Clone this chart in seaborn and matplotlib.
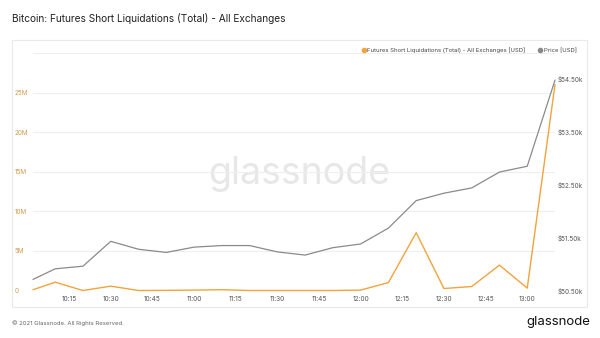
import matplotlib
matplotlib.use("Agg")
import matplotlib.pyplot as plt
import matplotlib.dates as mdates
from matplotlib.lines import Line2D
from matplotlib.patches import Rectangle
import seaborn as sns
import pandas as pd

times = ["10:02", "10:10", "10:20", "10:30", "10:40", "10:50", "11:00", "11:10",
         "11:20", "11:30", "11:40", "11:50", "12:00", "12:10", "12:20", "12:30",
         "12:40", "12:50", "13:00", "13:10"]
short_liq_musd = [0.1, 1.05, 0.0, 0.55, 0.0, 0.02, 0.05, 0.1, 0.0, 0.0,
                  0.0, 0.0, 0.05, 1.0, 7.3, 0.25, 0.5, 3.2, 0.3, 26.0]
price_k = [50.71, 50.91, 50.96, 51.43, 51.28, 51.22, 51.32, 51.35, 51.35, 51.23,
           51.17, 51.31, 51.38, 51.68, 52.20, 52.34, 52.44, 52.74, 52.85, 54.48]
left_ticks_m = [0, 5, 10, 15, 20, 25, 30]
left_labels = ["0", "5M", "10M", "15M", "20M", "25M", ""]
right_ticks_k = [50.5, 51.5, 52.5, 53.5, 54.5]
right_labels = ["$50.50k", "$51.50k", "$52.50k", "$53.50k", "$54.50k"]

df = pd.DataFrame({
    "time": pd.to_datetime(["2021-02-21 " + t for t in times]),
    "liq": [v * 1e6 for v in short_liq_musd],
    "price": price_k,
})

sns.set_theme(style="white")
plt.rcParams["font.family"] = ["Inter", "DejaVu Sans"]

ORANGE = "#f2a33c"
GRAY = "#8a8a8a"

fig = plt.figure(figsize=(6, 3.38), dpi=100, facecolor="white")
ax = fig.add_axes([33 / 600, 47.5 / 338, 522 / 600, 237.6 / 338])
ax2 = ax.twinx()

# panel border
fig.patches.append(Rectangle((12 / 600, (338 - 307) / 338), 575 / 600, 267 / 338,
                             transform=fig.transFigure, fill=False,
                             edgecolor="#e9e9e9", linewidth=0.8, zorder=0))

sns.lineplot(data=df, x="time", y="liq", ax=ax, color=ORANGE, linewidth=1.0,
             clip_on=False, zorder=3)
sns.lineplot(data=df, x="time", y="price", ax=ax2, color=GRAY, linewidth=0.9,
             clip_on=False, zorder=3)

ax.set_ylim(0, 30e6)
ax2.set_ylim(50.5, 50.5 + 237.6 / 52.875)
ax.set_xlim(df["time"].min(), df["time"].max())

ax.set_yticks([v * 1e6 for v in left_ticks_m])
ax.set_yticklabels(left_labels)
ax2.set_yticks(right_ticks_k)
ax2.set_yticklabels(right_labels)

ax.xaxis.set_major_formatter(mdates.DateFormatter("%H:%M"))
ticks = list(pd.date_range("2021-02-21 10:15", "2021-02-21 13:00", freq="15min"))
ax.set_xticks(ticks)

ax.grid(axis="y", color="#efefef", linewidth=0.8)
ax.grid(axis="x", visible=False)
ax2.grid(False)
for a in (ax, ax2):
    for s in a.spines.values():
        s.set_visible(False)
    a.set_xlabel("")
    a.set_ylabel("")
    a.set_facecolor("none")

ax.tick_params(axis="y", length=0, labelsize=4.6, labelcolor="#d49a4e", pad=13)
for lbl in ax.get_yticklabels():
    lbl.set_horizontalalignment("left")
ax2.tick_params(axis="y", length=0, labelsize=4.6, labelcolor="#555555", pad=2)
ax.tick_params(axis="x", length=0, labelsize=4.7, labelcolor="#555555", pad=4)

# watermark
ax.text(0.51, 0.49, "glassnode", transform=ax.transAxes, ha="center", va="center",
        fontsize=27, color="#e7e7e7", zorder=0)

fig.text(12 / 600, 1 - 18 / 338, "Bitcoin: Futures Short Liquidations (Total) - All Exchanges",
         ha="left", va="center", fontsize=7.3, color="#222222")

handles = [Line2D([], [], marker="o", linestyle="none", markersize=3, color=ORANGE),
           Line2D([], [], marker="o", linestyle="none", markersize=3, color=GRAY)]
fig.legend(handles, ["Futures Short Liquidations (Total) - All Exchanges [USD]", "Price [USD]"],
           loc="center right", bbox_to_anchor=(582 / 600, 1 - 50 / 338), ncol=2,
           frameon=False, fontsize=4.3, handletextpad=0.2, columnspacing=2.0,
           handlelength=0.8, labelcolor="#444444")

fig.text(12 / 600, 1 - 323 / 338, "© 2021 Glassnode. All Rights Reserved.",
         ha="left", va="center", fontsize=4.3, color="#666666")
fig.text(590 / 600, 1 - 322 / 338, "glassnode", ha="right", va="center",
         fontsize=9.5, color="#111111")

fig.savefig("out.png", dpi=100, facecolor="white")
